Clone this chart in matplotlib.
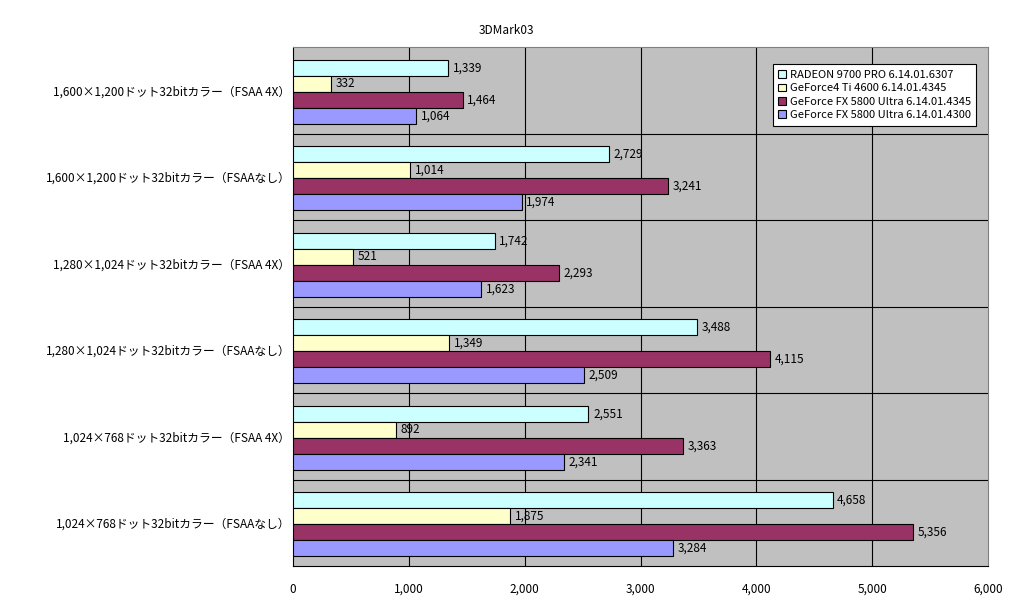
import numpy as np
import matplotlib.pyplot as plt
from matplotlib.patches import Patch

plt.rcParams['font.family'] = ['Noto Sans CJK JP', 'DejaVu Sans']

categories = [
    "1,600×1,200ドット32bitカラー（FSAA 4X）",
    "1,600×1,200ドット32bitカラー（FSAAなし）",
    "1,280×1,024ドット32bitカラー（FSAA 4X）",
    "1,280×1,024ドット32bitカラー（FSAAなし）",
    "1,024×768ドット32bitカラー（FSAA 4X）",
    "1,024×768ドット32bitカラー（FSAAなし）",
]
series_names = [
    "RADEON 9700 PRO 6.14.01.6307",
    "GeForce4 Ti 4600 6.14.01.4345",
    "GeForce FX 5800 Ultra 6.14.01.4345",
    "GeForce FX 5800 Ultra 6.14.01.4300",
]
radeon = [1339, 2729, 1742, 3488, 2551, 4658]
gf4 = [332, 1014, 521, 1349, 892, 1875]
fx4345 = [1464, 3241, 2293, 4115, 3363, 5356]
fx4300 = [1064, 1974, 1623, 2509, 2341, 3284]
colors = ["#CCFFFF", "#FFFFCC", "#993366", "#9999FF"]

fig = plt.figure(figsize=(10.12, 6.0), dpi=100)
ax = fig.add_axes([293/1012, 1-566/600, 695/1012, 519/600])
ax.set_facecolor("#C0C0C0")

y = np.arange(len(categories))
h = 0.185
for k, vals in enumerate([radeon, gf4, fx4345, fx4300]):
    pos = y - 1.5*h + k*h + 0.02
    ax.barh(pos, vals, height=h, color=colors[k], edgecolor="black",
            linewidth=0.8, zorder=3)
    for p, v in zip(pos, vals):
        ax.text(v + 40, p, f"{v:,}", va="center", ha="left", fontsize=8.5, zorder=4)

ax.set_xlim(0, 6000)
ax.set_ylim(len(categories)-0.5, -0.5)
ax.set_xticks(range(0, 6001, 1000))
ax.set_xticklabels([f"{t:,}" for t in range(0, 6001, 1000)], fontsize=8.5)
ax.set_yticks(y)
ax.set_yticklabels(categories, fontsize=8.5)
ax.tick_params(axis="both", length=0)
ax.tick_params(axis="x", pad=12)
ax.tick_params(axis="y", pad=2)

for xv in range(1000, 6000, 1000):
    ax.axvline(xv, color="black", linewidth=0.8, zorder=1)
for yv in np.arange(0.5, len(categories)-0.5, 1):
    ax.axhline(yv, color="black", linewidth=0.8, zorder=1)

for s in ["top", "right"]:
    ax.spines[s].set_color("#808080")
for s in ["left", "bottom"]:
    ax.spines[s].set_color("black")

fig.text(0.5, 1-30/600, "3DMark03", ha="center", va="center", fontsize=8.5)

handles = [Patch(facecolor=c, edgecolor="black", linewidth=0.8) for c in colors]
leg = ax.legend(handles, series_names, loc="upper right", bbox_to_anchor=(0.991, 0.977),
                fontsize=8, frameon=True, fancybox=False, framealpha=1,
                handlelength=0.7, handleheight=0.7, handletextpad=0.3,
                labelspacing=0.3, borderpad=0.5)
leg.get_frame().set_edgecolor("black")
leg.get_frame().set_linewidth(0.8)

fig.savefig("out.png", dpi=100, facecolor="white")
